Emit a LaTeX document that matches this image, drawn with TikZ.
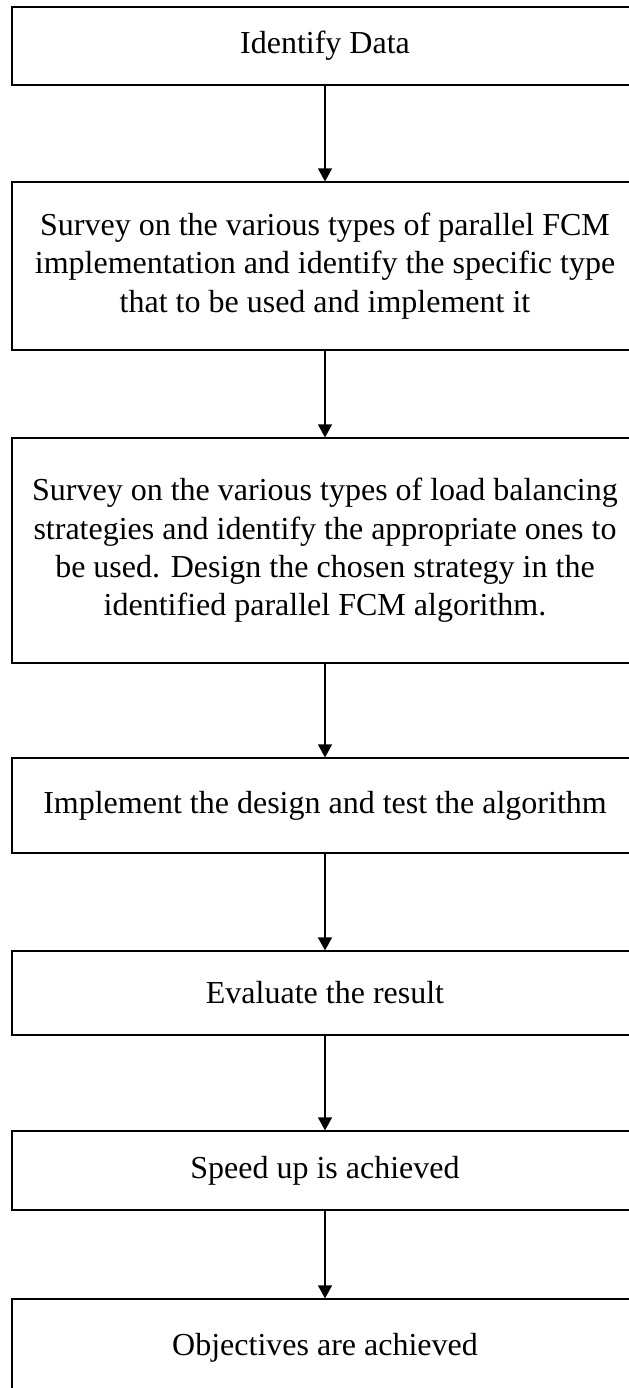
\documentclass[tikz,border=0pt]{standalone}
\usepackage{fontspec}
\setmainfont{Liberation Serif}
\usetikzlibrary{arrows.meta}
\tikzset{
  stepbox/.style={draw, line width=0.6pt, align=center, minimum width=313pt, inner sep=2pt,
                  font=\fontsize{16}{19.2}\selectfont},
  arr/.style={-{Triangle[length=6.5pt, width=7pt]}, line width=0.6pt},
}
\begin{document}
\begin{tikzpicture}[x=0.5pt, y=-0.5pt]
    \useasboundingbox (0,0) rectangle (628,1388);
    \node[stepbox, minimum height=39pt] (data) at (325,46) {Identify Data};
    \node[stepbox, minimum height=84pt] (impl) at (325,266) {Survey on the various types of parallel FCM\\implementation and identify the specific type\\that to be used and implement it};
    \node[stepbox, minimum height=112.5pt] (lb) at (325,550.5) {Survey on the various types of load balancing\\strategies and identify the appropriate ones to\\be used. Design the chosen strategy in the\\identified parallel FCM algorithm.};
    \node[stepbox, minimum height=47.5pt] (test) at (325,805.5) {Implement the design and test the algorithm};
    \node[stepbox, minimum height=42pt] (eval) at (325,993) {Evaluate the result};
    \node[stepbox, minimum height=39.5pt] (speed) at (325,1170.5) {Speed up is achieved};
    \node[stepbox, minimum height=48.5pt] (obj) at (325,1347.5) {Objectives are achieved};
    \draw[arr] (data)--(impl); \draw[arr] (impl)--(lb); \draw[arr] (lb)--(test);
    \draw[arr] (test)--(eval); \draw[arr] (eval)--(speed); \draw[arr] (speed)--(obj);
\end{tikzpicture}
\end{document}
